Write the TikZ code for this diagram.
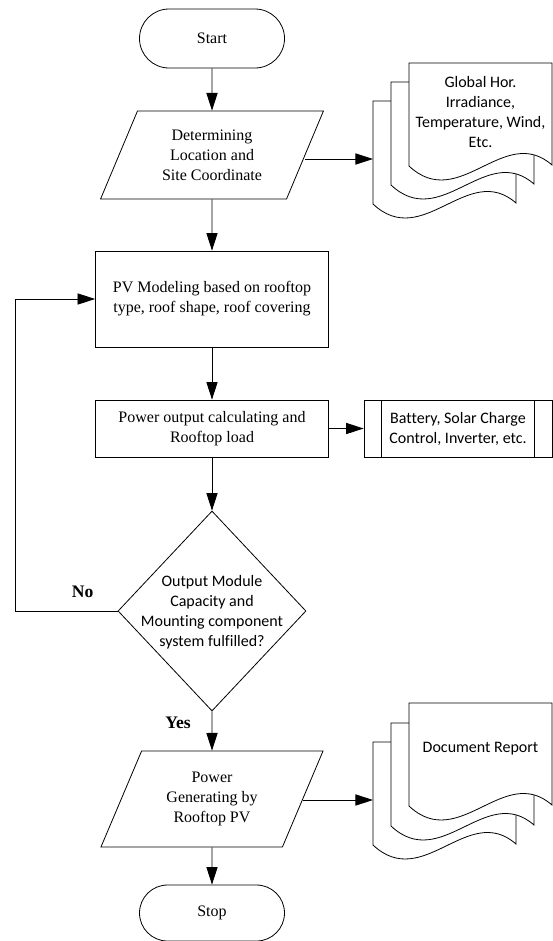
\documentclass[tikz,border=0pt]{standalone}
\usepackage{fontspec}
\setmainfont{Liberation Serif}
\newfontfamily\calib[Ligatures=NoCommon]{Carlito}
\usetikzlibrary{shapes.geometric,shapes.misc,arrows.meta,calc}
\def\upx{0.625pt}
% one sheet of a document stack, top left corner at (#1,#2)
\newcommand\docpage[2]{%
  \draw[fill=white] (#1,#2) -- (#1+143,#2) -- (#1+143,#2+102)
    .. controls (#1+95,#2+60) and (#1+50,#2+150) .. (#1,#2+103) -- cycle;}

\begin{document}
\begin{tikzpicture}[x=0.625pt, y=-0.625pt, line width=0.5pt,
    >={Triangle[length=11pt,width=7pt]},
    every node/.style={font=\fontsize{10}{12.5}\selectfont, align=center, inner sep=0pt},
    term/.style={draw, rounded rectangle, minimum width=145*\upx, minimum height=59*\upx},
    proc/.style={draw, rectangle, minimum width=233*\upx},
    io/.style={draw, trapezium, trapezium left angle=64, trapezium right angle=116,
      trapezium stretches=true, minimum width=223*\upx},
    decis/.style={draw, diamond, minimum width=188*\upx, minimum height=200*\upx},
    sans/.style={font=\calib\fontsize{10}{12.5}\selectfont},
    lbl/.style={font=\bfseries\fontsize{11}{13}\selectfont}]
        \useasboundingbox (0,0) rectangle (553,941);

        % Main column
        \node[term] (start) at (212,38.5) {Start};
        \node[io, minimum height=88*\upx] (site) at (212,155) {Determining\\Location and\\Site Coordinate};
        \node[proc, minimum height=96*\upx] (pv) at (212,299) {PV Modeling based on rooftop\\type, roof shape, roof covering};
        \node[proc, minimum height=57*\upx] (pow) at (212,428.5) {Power output calculating and\\Rooftop load};
        \node[decis] (dec) at (212,611) {};
        \node[sans] (dectxt) at (212,612) {Output Module\\Capacity and\\Mounting component\\system fulfilled?};
        \node[io, minimum height=96*\upx] (gen) at (212,799) {Power\\Generating by\\Rooftop PV};
        \node[term, minimum height=56*\upx] (stop) at (212,913) {Stop};

        % Predefined process
        \node[draw, sans, minimum width=188*\upx, minimum height=57*\upx] (bat) at (458,428.5) {Battery, Solar Charge\\Control, Inverter, etc.};
        \draw ([xshift=11.25pt]bat.north west) -- ([xshift=11.25pt]bat.south west);
        \draw ([xshift=-11.25pt]bat.north east) -- ([xshift=-11.25pt]bat.south east);

        % Input data stack
        \docpage{373}{101}
        \docpage{391}{82}
        \docpage{409}{63}
        \node[sans] (data) at (480.5,112) {Global Hor.\\Irradiance,\\Temperature, Wind,\\Etc.};
        \coordinate (datain) at (373,159);

        % Report stack
        \docpage{373}{742}
        \docpage{391}{723}
        \docpage{409}{703}
        \node[sans] (rep) at (480.5,749) {Document Report};
        \coordinate (repin) at (373,800);

        % Flow
        \draw[->] (start) -- (site);
        \draw[->] (site) -- (pv);
        \draw[->] (pv) -- (pow);
        \draw[->] (pow) -- (dec);
        \draw[->] (dec) -- (gen) node[lbl, pos=0.3, left=13pt] {Yes};
        \draw[->] (gen) -- (stop);

        % Side outputs
        \draw[->] (site.east |- datain) -- (datain);
        \draw[->] (pow) -- (bat);
        \draw[->] (gen.east |- repin) -- (repin);

        % Loop back
        \coordinate (back) at (15,611);
        \draw[->] (dec.west) -- (back) node[lbl, pos=0.34, above=8pt] {No} |- (pv.west);

    \end{tikzpicture}
\end{document}
